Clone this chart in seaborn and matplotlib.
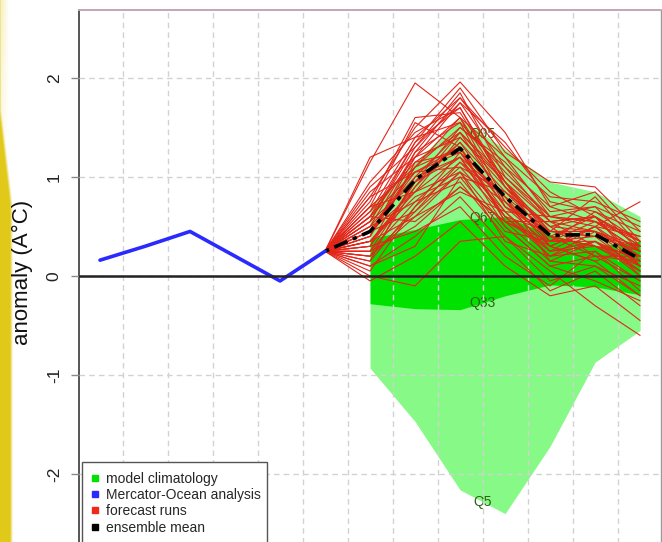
import numpy as np
import pandas as pd
import matplotlib
matplotlib.use("Agg")
import matplotlib.pyplot as plt
import seaborn as sns
from matplotlib.lines import Line2D
from matplotlib.patches import Rectangle

# ---------------- data ----------------
analysis_steps = [0, 1, 2, 3, 4, 5]
analysis_vals = [0.16, 0.30, 0.45, 0.20, -0.05, 0.25]

clim_steps = [6, 7, 8, 9, 10, 11, 12]
q5 = [-0.93, -1.47, -2.16, -2.40, -1.72, -0.87, -0.55]
q33 = [-0.28, -0.33, -0.34, -0.20, -0.09, -0.11, -0.19]
q67 = [0.38, 0.47, 0.57, 0.60, 0.42, 0.30, 0.35]
q95 = [0.70, 1.15, 1.59, 1.28, 0.95, 0.85, 0.60]
q_names = ["Q5", "Q33", "Q67", "Q95"]

fc_steps = [5, 6, 7, 8, 9, 10, 11, 12]
ens_mean = [0.25, 0.45, 0.97, 1.29, 0.80, 0.41, 0.42, 0.17]

runs = [
    [0.60, 1.20, 1.75, 1.10, 0.55, 0.60, 0.30],
    [0.35, 0.85, 1.40, 0.95, 0.30, 0.50, 0.10],
    [1.15, 1.95, 1.60, 1.20, 0.80, 0.75, 0.55],
    [0.20, 0.60, 1.05, 0.50, 0.10, 0.20, -0.05],
    [0.80, 1.50, 1.96, 1.45, 0.70, 0.85, 0.35],
    [0.45, 1.05, 1.30, 0.70, 0.40, 0.30, 0.20],
    [0.10, 0.40, 0.80, 0.30, -0.15, 0.05, -0.30],
    [0.55, 1.30, 1.85, 1.00, 0.60, 0.55, 0.40],
    [-0.05, 0.20, 0.55, 0.10, -0.20, -0.10, -0.45],
    [0.70, 1.10, 1.50, 1.15, 0.65, 0.70, 0.25],
    [0.30, 0.95, 1.20, 0.60, 0.25, 0.35, 0.05],
    [0.95, 1.45, 1.70, 0.90, 0.45, 0.40, 0.30],
    [0.15, 0.70, 1.10, 0.85, 0.50, 0.20, 0.15],
    [0.50, 1.00, 1.45, 0.75, 0.35, 0.65, 0.45],
    [0.40, 1.25, 1.80, 1.30, 0.85, 0.60, 0.10],
    [0.25, 0.50, 0.90, 0.55, 0.15, 0.10, -0.20],
    [0.65, 1.15, 1.25, 0.65, 0.20, 0.45, 0.25],
    [0.00, -0.10, 0.35, 0.40, 0.05, -0.30, -0.60],
    [0.75, 1.60, 1.65, 0.95, 0.55, 0.30, 0.20],
    [0.35, 0.80, 1.00, 0.45, 0.35, 0.55, 0.35],
    [1.20, 1.40, 1.55, 1.05, 0.60, 0.50, 0.75],
    [0.45, 0.65, 1.15, 0.80, 0.15, 0.35, 0.00],
    [0.20, 0.90, 1.35, 0.70, 0.30, 0.15, 0.30],
    [0.55, 1.35, 1.90, 1.25, 0.95, 0.90, 0.45],
    [0.30, 0.45, 0.70, 0.20, -0.10, 0.25, -0.15],
    [0.60, 1.05, 1.10, 0.60, 0.45, 0.45, 0.10],
    [0.10, 0.30, 1.00, 0.85, 0.40, 0.20, 0.20],
    [0.85, 1.20, 1.40, 0.90, 0.50, 0.60, 0.15],
    [0.40, 1.10, 1.60, 0.75, 0.25, 0.50, 0.40],
    [0.50, 0.75, 0.95, 0.40, -0.05, 0.10, -0.10],
    [0.25, 0.95, 1.50, 1.10, 0.70, 0.55, 0.25],
    [0.70, 1.55, 1.30, 0.55, 0.35, 0.40, 0.05],
    [0.35, 0.60, 0.85, 0.65, 0.60, 0.70, 0.50],
    [0.15, 1.00, 1.20, 0.50, 0.10, -0.05, -0.25],
    [0.90, 1.30, 1.75, 1.35, 0.75, 0.65, 0.35],
    [0.45, 0.85, 1.05, 0.35, 0.20, 0.35, 0.15],
    [0.30, 1.15, 1.45, 0.95, 0.40, 0.60, 0.30],
    [0.60, 0.55, 0.90, 0.55, 0.55, 0.45, 0.00],
    [0.05, 0.70, 1.25, 0.80, 0.30, 0.15, -0.20],
    [0.50, 1.25, 1.55, 0.70, 0.45, 0.80, 0.30],
    [0.65, 1.40, 1.80, 1.20, 0.60, 0.55, 0.25],
    [0.25, 0.75, 1.15, 0.65, 0.25, 0.30, 0.05],
    [0.55, 0.95, 1.35, 0.85, 0.50, 0.45, 0.20],
    [0.40, 1.20, 1.60, 0.90, 0.35, 0.35, 0.10],
    [0.80, 1.05, 1.25, 0.60, 0.20, 0.25, -0.05],
    [0.35, 0.90, 1.45, 1.00, 0.55, 0.60, 0.35],
    [0.60, 1.35, 1.70, 0.95, 0.45, 0.40, 0.25],
    [0.20, 0.65, 1.05, 0.75, 0.40, 0.30, 0.10],
    [0.45, 1.10, 1.30, 0.55, 0.30, 0.50, 0.20],
    [0.70, 0.85, 1.20, 0.80, 0.45, 0.45, 0.30],
]

y_ticks = [-2, -1, 0, 1, 2]
y_label = "anomaly (A°C)"
legend_labels = ["model climatology", "Mercator-Ocean analysis",
                 "forecast runs", "ensemble mean"]

# ---------------- styles ----------------
C_LIGHT = "#86f986"
C_DARK = "#00e100"
C_BLUE = "#2a2aff"
C_RED = "#e3261a"
C_QTXT = "#2a6410"

sns.set_theme(style="white")
plt.rcParams["font.family"] = ["Liberation Sans", "DejaVu Sans"]

W, H = 662, 542
fig = plt.figure(figsize=(W / 100, H / 100), dpi=100)
fig.patch.set_facecolor("white")

# decorative yellow strip at the left edge (screenshot background)
SW = 24
bg = fig.add_axes([0, 0, SW / W, 1], zorder=-5)
bg.set_axis_off()
yy, xx = np.mgrid[0:H, 0:SW]
edge = np.clip((yy - 110) / 95.0, 0, 1) * 11.0
alpha = np.clip((edge - xx) / 3.0 + 0.5, 0, 1)
top_tint = np.clip((9 - xx) / 9.0, 0, 1) * np.clip((200 - yy) / 200.0, 0, 1) * 0.3
img = np.ones((H, SW, 4))
img[..., 0] = 0.88
img[..., 1] = 0.78
img[..., 2] = 0.05
img[..., 3] = np.maximum(alpha, top_tint) * 0.95
bg.imshow(img, aspect="auto", interpolation="bilinear")

# main axes: pixel geometry (left 78.5, top 10, right 660.5, bottom beyond figure)
x_left_px, x_right_px, top_px, bot_px = 78.5, 660.5, 10.0, 548.0
ax = fig.add_axes([x_left_px / W, 1 - bot_px / H,
                   (x_right_px - x_left_px) / W, (bot_px - top_px) / H])
ax.set_facecolor("none")

# climatology bands
ax.fill_between(clim_steps, q5, q95, color=C_LIGHT, lw=0, zorder=1)
ax.fill_between(clim_steps, q33, q67, color=C_DARK, lw=0, zorder=1.1)

# quantile labels between steps 8 and 9
for name, q in zip(q_names, [q5, q33, q67, q95]):
    i = clim_steps.index(8)
    ax.text(8.5, (q[i] + q[i + 1]) / 2, name, color=C_QTXT, fontsize=10,
            ha="center", va="center", zorder=1.2)

# forecast runs
rows = []
for r, vals in enumerate(runs):
    for s, v in zip(fc_steps, [analysis_vals[-1]] + vals):
        rows.append({"run": r, "step": s, "value": v})
df_runs = pd.DataFrame(rows)
sns.lineplot(data=df_runs, x="step", y="value", units="run", estimator=None,
             color=C_RED, lw=0.8, ax=ax, zorder=3, legend=False)

# ensemble mean
df_mean = pd.DataFrame({"step": fc_steps, "value": ens_mean})
sns.lineplot(data=df_mean, x="step", y="value", color="black", lw=2.6,
             ax=ax, zorder=4, legend=False)
ax.lines[-1].set_dashes([1.2, 1.6, 4.0, 1.6])

# analysis
df_an = pd.DataFrame({"step": analysis_steps, "value": analysis_vals})
sns.lineplot(data=df_an, x="step", y="value", color=C_BLUE, lw=2.6, ax=ax,
             zorder=4, legend=False)

# zero line
ax.axhline(0, color="#222222", lw=1.8, zorder=5)

# axes limits / ticks
ax.set_xlim(-0.478, 12.453)
px_per_unit = 99.0
ax.set_ylim(-(bot_px - 276) / px_per_unit, (276 - top_px) / px_per_unit)
ax.set_xticks(np.arange(0.5, 12, 1))
ax.set_xticklabels([])
ax.set_xlabel("")
ax.tick_params(axis="x", length=0)
ax.set_yticks(y_ticks)
ax.set_yticklabels([str(t) for t in y_ticks], rotation=90, va="center",
                   fontsize=12.5, color="#222222")
ax.tick_params(axis="y", direction="out", length=6, width=1.0,
               color="#8a8a8a", pad=6, left=True)
ax.grid(True, color="#d2d2d2", lw=1.0, ls=(0, (4, 3)))
ax.set_axisbelow(False)
for gl in ax.get_xgridlines() + ax.get_ygridlines():
    gl.set_zorder(2)

ax.set_ylabel(y_label, fontsize=16, color="#111111")
ax.yaxis.set_label_coords(-(x_left_px - 33) / (x_right_px - x_left_px),
                          1 - (272 - top_px) / (bot_px - top_px))

for side, sp in ax.spines.items():
    sp.set_visible(True)
ax.spines["left"].set_color("#555555")
ax.spines["left"].set_linewidth(1.4)
ax.spines["top"].set_color("#c4a6b6")
ax.spines["top"].set_linewidth(1.4)
ax.spines["right"].set_color("#9a9a9a")
ax.spines["right"].set_linewidth(1.0)

# legend (frame extends below the picture, as in the reference)
frame = Rectangle((82 / W, -0.05), (267 - 82) / W, 1 - 462 / H + 0.05,
                  transform=fig.transFigure, facecolor="white",
                  edgecolor="#555555", lw=1.0, clip_on=False, zorder=9)
ax.add_artist(frame)
handles = [
    Line2D([], [], ls="none", marker="s", ms=5, color=C_DARK),
    Line2D([], [], ls="none", marker="s", ms=5, color=C_BLUE),
    Line2D([], [], ls="none", marker="s", ms=5, color="#f02a1a"),
    Line2D([], [], ls="none", marker="s", ms=5, color="black"),
]
leg = ax.legend(handles, legend_labels, loc="upper left",
                bbox_to_anchor=((84 - x_left_px) / (x_right_px - x_left_px),
                                1 - (466 - top_px) / (bot_px - top_px)),
                fontsize=10, frameon=False, handlelength=0.8,
                handletextpad=0.4, borderpad=0.4, labelspacing=0.17,
                borderaxespad=0)
leg.set_zorder(10)

fig.savefig("out.png", dpi=100)
